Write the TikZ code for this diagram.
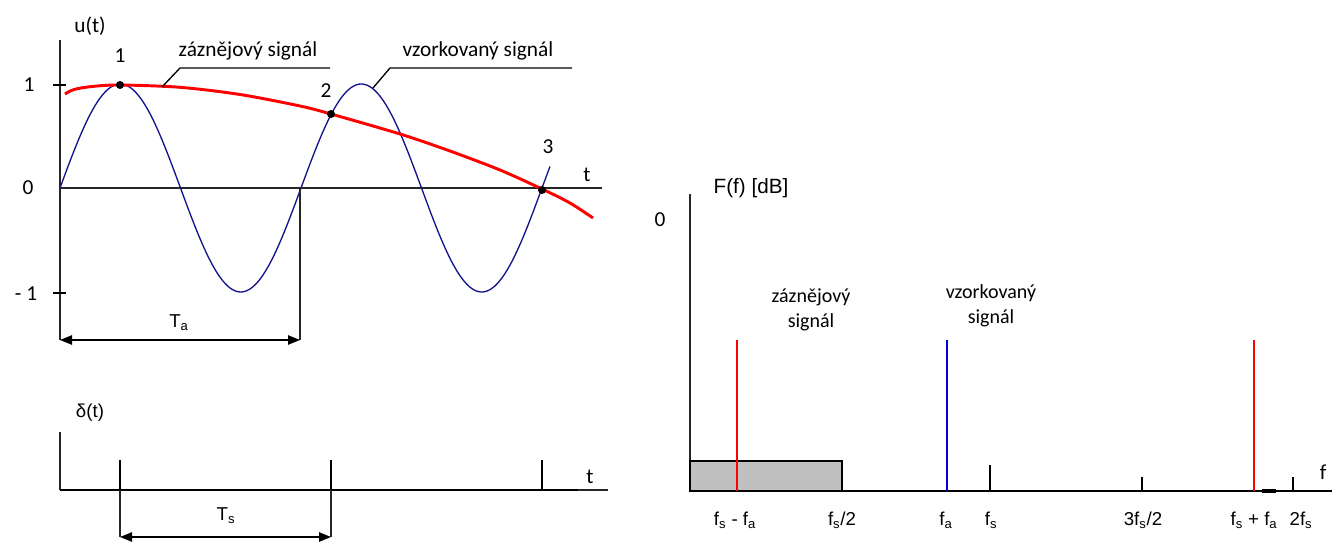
\documentclass[tikz,border=0pt]{standalone}
\usepackage{fontspec}
\setmainfont{Carlito}
\newfontfamily\arl{Liberation Sans}
\usetikzlibrary{arrows.meta}
\definecolor{sigblue}{RGB}{20,20,140}
\definecolor{specblue}{RGB}{0,0,210}
\definecolor{boxgray}{RGB}{192,192,192}
\tikzset{
  axis/.style={line width=1.1pt, black!85},
  thickaxis/.style={line width=1.6pt, black},
  tickmark/.style={line width=1pt},
  lbl/.style={font=\fontsize{16}{18}\selectfont, inner sep=0pt},
  slbl/.style={font=\fontsize{15}{18.5}\selectfont, inner sep=0pt},
  alb/.style={font=\arl\fontsize{14}{16}\selectfont, inner sep=0pt},
  sine/.style={line width=1pt, sigblue},
  beat/.style={line width=2.2pt, red},
  dot/.style={circle, fill=black, minimum size=6pt, inner sep=0pt},
  dim/.style={line width=1.1pt, {Triangle[length=9pt,width=7pt]}-{Triangle[length=9pt,width=7pt]}},
  guide/.style={line width=1pt},
  pulse/.style={line width=1.8pt},
  redline/.style={line width=1.8pt, red},
  blueline/.style={line width=0.9pt, specblue},
  bandbox/.style={fill=boxgray, draw=black, line width=1.1pt},
}
\begin{document}
\begin{tikzpicture}[x=0.75pt,y=-0.75pt]
\useasboundingbox (0,0) rectangle (1338,549);
% ---------- top-left: u(t) ----------
\coordinate (uy0) at (60,40);
\coordinate (uy1) at (60,340);
\coordinate (ux0) at (60,188);
\coordinate (ux1) at (602,188);
\draw[axis] (uy0) -- (uy1);
\draw[axis] (ux0) -- (ux1);
\coordinate (t1a) at (53,85); \coordinate (t1b) at (66,85);
\coordinate (tma) at (53,293); \coordinate (tmb) at (66,293);
\draw[tickmark] (t1a) -- (t1b);
\draw[tickmark] (tma) -- (tmb);
\node[lbl] (ulab) at (90,26) {u(t)};
\node[lbl] (one) at (29,85) {1};
\node[lbl] (zero) at (28,188) {0};
\node[lbl] (mone) at (26,294) {- 1};
\node[lbl] (tlab) at (587,175) {t};
% blue sampled signal
\draw[sine] plot[domain=60:550, samples=240] (\x, {188 - 104*sin(1.49378*(\x-60))});
% red beat signal
\draw[beat] plot[smooth] coordinates {(65,94) (74,89.5) (92,86.5) (120,85) (180,87.3) (240,94.5) (300,106) (331,114) (400,134) (450,151) (500,170) (542,189) (570,203) (593,218)};
\node[dot] (p1) at (120,85) {};
\node[dot] (p2) at (331,114) {};
\node[dot] (p3) at (542,190) {};
\node[lbl] (n1) at (120,56) {1};
\node[lbl] (n2) at (326,91) {2};
\node[lbl] (n3) at (548,147) {3};
% callouts
\node[lbl] (zs) at (248,51) {záznějový signál};
\coordinate (zsa) at (180,68); \coordinate (zsb) at (330,68); \coordinate (zsc) at (162,87);
\draw[guide] (zsc) -- (zsa) -- (zsb);
\node[lbl] (vs) at (478,51) {vzorkovaný signál};
\coordinate (vsa) at (390,68); \coordinate (vsb) at (572,68); \coordinate (vsc) at (373,88);
\draw[guide] (vsc) -- (vsa) -- (vsb);
% Ta
\coordinate (ta0) at (300,188); \coordinate (ta1) at (300,340);
\draw[axis] (ta0) -- (ta1);
\coordinate (tal) at (60,340); \coordinate (tar) at (300,340);
\draw[dim] (tal) -- (tar);
\node[alb] (Ta) at (179,323) {T\textsubscript{a}};
% ---------- bottom-left: delta(t) ----------
\node[alb] (dlab) at (90,413) {δ(t)};
\coordinate (dy0) at (60,432); \coordinate (dy1) at (60,490);
\draw[axis] (dy0) -- (dy1);
\coordinate (dx0) at (60,490); \coordinate (dx1) at (578,490); \coordinate (dx2) at (608,490);
\draw[thickaxis] (dx0) -- (dx1);
\draw[axis] (dx1) -- (dx2);
\foreach \px/\nm in {120/a,331/b,542/c}{
  \coordinate (pt\nm) at (\px,460); \coordinate (pb\nm) at (\px,490);
  \draw[pulse] (pt\nm) -- (pb\nm);
}
\node[lbl] (tlab2) at (590,477) {t};
\coordinate (tsa0) at (120,490); \coordinate (tsa1) at (120,537);
\coordinate (tsb0) at (331,490); \coordinate (tsb1) at (331,537);
\draw[axis] (tsa0) -- (tsa1);
\draw[axis] (tsb0) -- (tsb1);
\draw[dim] (tsa1) -- (tsb1);
\node[alb] (Ts) at (226,516) {T\textsubscript{s}};
% ---------- right: spectrum ----------
\node[alb, font=\arl\fontsize{15.5}{17}\selectfont] (Flab) at (751,188) {F(f) [dB]};
\node[lbl] (zero2) at (660,220) {0};
\coordinate (fy0) at (690,194); \coordinate (fy1) at (690,491);
\draw[axis] (fy0) -- (fy1);
\coordinate (bandA) at (690,461); \coordinate (bandB) at (842,491);
\draw[bandbox] (bandA) rectangle (bandB);
\coordinate (fx0) at (690,491); \coordinate (fx1) at (1332,491);
\draw[thickaxis] (fx0) -- (fx1);
\coordinate (art0) at (1262,491); \coordinate (art1) at (1276,491);
\draw[line width=2.4pt] (art0) -- (art1);
\node[lbl] (flab) at (1323,472) {f};
% spectral lines
\coordinate (r1t) at (737,340); \coordinate (r1b) at (737,491);
\draw[redline] (r1t) -- (r1b);
\coordinate (b1t) at (947,340); \coordinate (b1b) at (947,491);
\draw[blueline] (b1t) -- (b1b);
\coordinate (r2t) at (1254,340); \coordinate (r2b) at (1254,491);
\draw[redline] (r2t) -- (r2b);
\coordinate (k1t) at (990,465); \coordinate (k1b) at (990,491);
\draw[tickmark] (k1t) -- (k1b);
\coordinate (k2t) at (1142,477); \coordinate (k2b) at (1142,491);
\draw[tickmark] (k2t) -- (k2b);
\coordinate (k3t) at (1293,477); \coordinate (k3b) at (1293,491);
\draw[tickmark] (k3t) -- (k3b);
% spectral labels
\node[slbl, align=center] (zs2) at (811,310) {záznějový\\signál};
\node[slbl, align=center] (vs2) at (991,306) {vzorkovaný\\signál};
\node[alb] (l1) at (735,520) {f\textsubscript{s} - f\textsubscript{a}};
\node[alb] (l2) at (842,520) {f\textsubscript{s}/2};
\node[alb] (l3) at (946,520) {f\textsubscript{a}};
\node[alb] (l4) at (991,520) {f\textsubscript{s}};
\node[alb] (l5) at (1143,520) {3f\textsubscript{s}/2};
\node[alb] (l6) at (1254,520) {f\textsubscript{s} + f\textsubscript{a}};
\node[alb] (l7) at (1301,520) {2f\textsubscript{s}};
\end{tikzpicture}
\end{document}
